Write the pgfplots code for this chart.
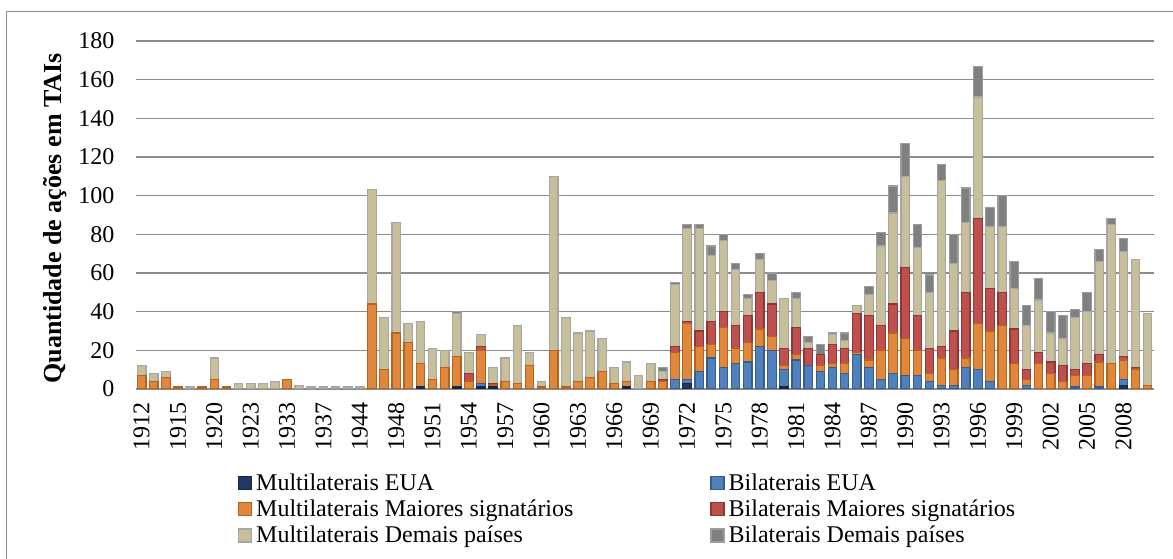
\documentclass[border=0pt]{standalone}
\usepackage{pgfplots}
\pgfplotsset{compat=1.18}
\usepackage{pgfplotstable}
\usepackage{fontspec}
\setmainfont{Liberation Serif}
\definecolor{cnavy}{HTML}{1F3864}
\definecolor{cnavyd}{HTML}{16284A}
\definecolor{cblue}{HTML}{4F81BD}
\definecolor{cblued}{HTML}{385D8A}
\definecolor{corange}{HTML}{E0873C}
\definecolor{coranged}{HTML}{B4631E}
\definecolor{cred}{HTML}{C0504D}
\definecolor{credd}{HTML}{8C3836}
\definecolor{ctan}{HTML}{C6BF99}
\definecolor{ctand}{HTML}{A6A6A6}
\definecolor{cgray}{HTML}{808080}
\definecolor{cgrayd}{HTML}{9C9C9C}
\definecolor{cgrid}{HTML}{8C8C8C}
\pgfplotsset{
  snavy/.style={fill=cnavy, draw=cnavyd, line width=1.2pt},
  sblue/.style={fill=cblue, draw=cblued, line width=1.2pt},
  sorange/.style={fill=corange, draw=coranged, line width=1.2pt},
  sred/.style={fill=cred, draw=credd, line width=1.2pt},
  stan/.style={fill=ctan, draw=ctand, line width=1.2pt},
  sgray/.style={fill=cgray, draw=cgrayd, line width=1.2pt},
  mybar/.style={ybar, bar width=8.5pt, bar shift=0pt, forget plot,
    y filter/.expression={y==0 ? nan : y}, unbounded coords=discard},
}
% columns: n = Multilaterais EUA, b = Bilaterais EUA, o = Multilaterais Maiores signatarios,
% r = Bilaterais Maiores signatarios, t = Multilaterais Demais paises, g = Bilaterais Demais paises
\pgfplotstableread{
i n b o r t g
0 0 0 7 0 5 0
1 0 0 4 0 4 0
2 0 0 6 0 3 0
3 0 0 1 0 0 0
4 0 0 0 0 1 0
5 0 0 1 0 0 0
6 0 0 5 0 11 0
7 0 0 1 0 0 0
8 0 0 0 0 3 0
9 0 0 0 0 3 0
10 0 0 0 0 3 0
11 0 0 0 0 4 0
12 0 0 5 0 0 0
13 0 0 0 0 2 0
14 0 0 0 0 1 0
15 0 0 0 0 1 0
16 0 0 0 0 1 0
17 0 0 0 0 1 0
18 0 0 0 0 1 0
19 0 0 44 0 59 0
20 0 0 10 0 27 0
21 0 0 29 0 57 0
22 0 0 24 0 10 0
23 1 0 12 0 22 0
24 0 0 5 0 16 0
25 0 0 11 0 9 0
26 1 0 16 0 22 1
27 0 0 4 4 11 0
28 1 2 17 2 6 0
29 1 0 1 1 8 0
30 0 0 4 0 12 0
31 0 0 3 0 30 0
32 0 0 12 0 7 0
33 0 0 1 0 3 0
34 0 0 20 0 90 0
35 0 0 1 0 36 0
36 0 0 4 0 25 0
37 0 0 6 0 24 0
38 0 0 9 0 17 0
39 0 0 3 0 8 0
40 1 0 3 0 10 0
41 0 0 0 0 7 0
42 0 0 4 0 9 0
43 0 0 4 1 4 2
44 0 5 14 3 32 1
45 3 2 29 1 48 2
46 0 9 13 8 53 2
47 0 16 7 12 34 5
48 0 11 21 8 37 3
49 0 13 8 12 29 3
50 0 14 10 14 9 2
51 0 22 9 19 17 3
52 0 20 7 17 12 4
53 1 9 2 9 26 0
54 0 15 3 14 15 3
55 0 12 0 9 3 3
56 0 9 3 6 0 5
57 0 11 2 10 5 1
58 0 8 5 8 4 4
59 0 18 1 20 4 0
60 0 11 4 23 11 4
61 0 5 15 13 41 7
62 0 8 21 15 47 14
63 0 7 19 37 47 17
64 0 7 13 18 35 12
65 0 4 4 13 29 9
66 0 2 14 6 86 8
67 0 2 8 20 35 15
68 0 11 5 34 36 18
69 0 10 24 54 63 16
70 0 4 26 22 32 10
71 0 0 33 17 34 16
72 0 0 13 18 21 14
73 0 2 3 5 23 10
74 0 0 13 6 27 11
75 0 0 8 6 15 11
76 0 0 4 8 14 12
77 0 1 6 3 27 4
78 0 0 7 6 27 10
79 0 1 13 4 48 6
80 0 0 13 0 72 3
81 2 3 10 2 54 7
82 0 0 10 1 56 0
83 0 0 2 0 37 0
}\data
\pgfplotstablecreatecol[expr={\thisrow{n}}]{c1}\data
\pgfplotstablecreatecol[expr={\thisrow{c1}+\thisrow{b}}]{c2}\data
\pgfplotstablecreatecol[expr={\thisrow{c2}+\thisrow{o}}]{c3}\data
\pgfplotstablecreatecol[expr={\thisrow{c3}+\thisrow{r}}]{c4}\data
\pgfplotstablecreatecol[expr={\thisrow{c4}+\thisrow{t}}]{c5}\data
\pgfplotstablecreatecol[expr={\thisrow{c5}+\thisrow{g}}]{c6}\data
\begin{document}
\begin{tikzpicture}
\useasboundingbox (0,0) rectangle (1173pt,559pt);
\draw[cgrid, line width=1.3pt] (6.7pt,-5pt) -- (6.7pt,547.3pt) -- (1185pt,547.3pt);
\begin{axis}[
  at={(135.6pt,170pt)}, anchor=south west,
  scale only axis, width=1018.1pt, height=348pt,
  xmin=-0.5, xmax=83.5, ymin=0, ymax=180,
  ytick={0,20,...,180},
  xtick={0,3,...,81},
  xticklabels={1912,1915,1920,1923,1933,1937,1944,1948,1951,1954,1957,1960,1963,1966,1969,1972,1975,1978,1981,1984,1987,1990,1993,1996,1999,2002,2005,2008},
  tick style={draw=none}, major tick length=0pt,
  axis x line*=bottom, axis y line*=left,
  y axis line style={draw=none},
  x axis line style={draw=cgrid, line width=1.3pt},
  ymajorgrids, grid style={draw=cgrid, line width=1.3pt},
  /pgf/number format/assume math mode=true,
  tick label style={font=\fontsize{24}{28}\selectfont},
  yticklabel style={anchor=east, inner ysep=0pt, inner xsep=21pt},
  xticklabel style={rotate=90, anchor=east, inner ysep=0pt, inner xsep=13pt},
  ylabel={Quantidade de ações em TAIs},
  ylabel style={font=\bfseries\fontsize{26}{30}\selectfont, at={(axis description cs:-0.0791,0.49)}, anchor=center},
  legend columns=2,
  legend cell align=left,
  legend image code/.code={\draw[#1] (0pt,-5.5pt) rectangle (13pt,7.5pt);},
  legend style={at={(axis description cs:0.1006,-0.2414)}, anchor=north west,
    draw=none, fill=none, inner sep=0pt, outer sep=0pt,
    font=\fontsize{24}{28}\selectfont,
    row sep=4.2pt, column sep=4pt,
    nodes={inner sep=0pt, text height=17pt, text depth=5pt},
    /tikz/every even column/.append style={column sep=137pt}},
]
\addlegendimage{snavy}\addlegendentry{Multilaterais EUA}
\addlegendimage{sblue}\addlegendentry{Bilaterais EUA}
\addlegendimage{sorange}\addlegendentry{Multilaterais Maiores signatários}
\addlegendimage{sred}\addlegendentry{Bilaterais Maiores signatários}
\addlegendimage{stan}\addlegendentry{Multilaterais Demais países}
\addlegendimage{sgray}\addlegendentry{Bilaterais Demais países}
\addplot[mybar, sgray] table[x=i, y=c6]{\data};
\addplot[mybar, stan] table[x=i, y=c5]{\data};
\addplot[mybar, sred] table[x=i, y=c4]{\data};
\addplot[mybar, sorange] table[x=i, y=c3]{\data};
\addplot[mybar, sblue] table[x=i, y=c2]{\data};
\addplot[mybar, snavy] table[x=i, y=c1]{\data};
\end{axis}
\end{tikzpicture}
\end{document}
